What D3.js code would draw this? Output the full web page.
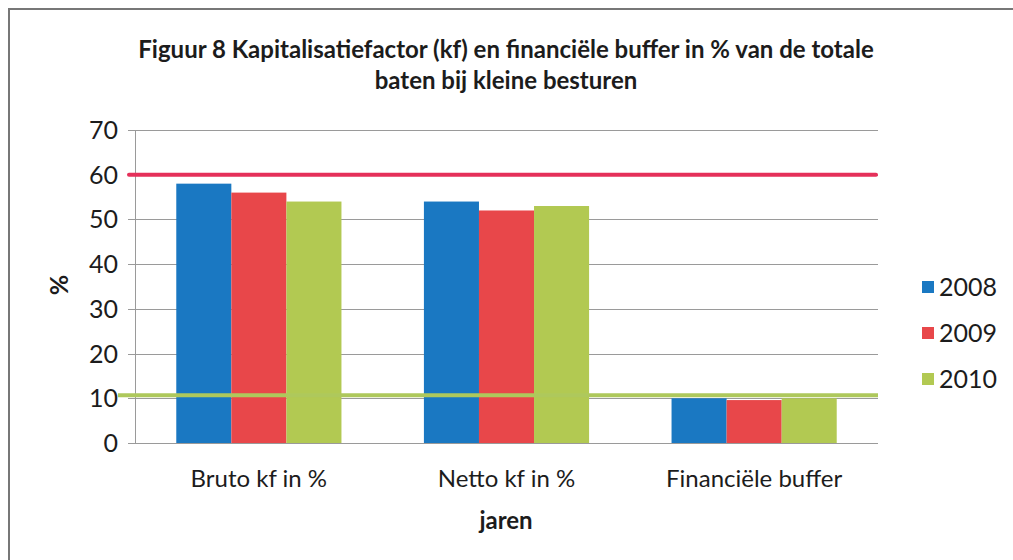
<!doctype html>
<html>
<head>
    <meta charset="utf-8">
    <style>
        body { margin: 0; background: #fff; }
        svg text { font-family: Lato, "Open Sans", sans-serif; fill: #1c1c1c; }
        .grid line { stroke: #9a9a9a; stroke-width: 1; shape-rendering: crispEdges; }
    </style>
</head>
<body>
    <svg id="chart"></svg>
    <script src="https://cdn.jsdelivr.net/npm/d3@7"></script>
    <script>
        var categories = ['Bruto kf in %', 'Netto kf in %', 'Financiële buffer'];
        var years = ['2008', '2009', '2010'];
        var values2008 = [58, 54, 10];
        var values2009 = [56, 52, 9.6];
        var values2010 = [54, 53, 10];
        var yTicks = [0, 10, 20, 30, 40, 50, 60, 70];
        var normMax = 60;   // red line
        var normMin = 10.7; // green line
        var colors = ['#1a78c2', '#e8474a', '#b2c952'];

        var series = [values2008, values2009, values2010];
        var width = 1013, height = 560;
        var m = { left: 135, right: 878, top: 130, bottom: 443 };

        var svg = d3.select('#chart').attr('width', width).attr('height', height);

        // frame
        svg.append('line').attr('x1', 8).attr('x2', width).attr('y1', 9).attr('y2', 9)
            .attr('stroke', '#777').attr('stroke-width', 2);
        svg.append('line').attr('x1', 9).attr('x2', 9).attr('y1', 9).attr('y2', height)
            .attr('stroke', '#777').attr('stroke-width', 2);

        var x0 = d3.scaleBand().domain(categories).range([m.left, m.right]).paddingInner(0.333).paddingOuter(0.1667);
        var x1 = d3.scaleBand().domain(years).range([0, x0.bandwidth()]);
        var y = d3.scaleLinear().domain([0, 70]).range([m.bottom, m.top]);

        // gridlines and ticks
        var grid = svg.append('g').attr('class', 'grid');
        grid.selectAll('line').data(yTicks).enter().append('line')
            .attr('x1', m.left - 7).attr('x2', m.right)
            .attr('y1', function(d) { return Math.round(y(d)) + 0.5; })
            .attr('y2', function(d) { return Math.round(y(d)) + 0.5; });
        grid.append('line').attr('x1', m.left + 0.5).attr('x2', m.left + 0.5)
            .attr('y1', m.top).attr('y2', m.bottom);

        svg.selectAll('text.ytick').data(yTicks).enter().append('text')
            .attr('class', 'ytick')
            .attr('x', 118).attr('y', function(d) { return y(d) + 9; })
            .attr('text-anchor', 'end').style('font-size', '25px')
            .text(function(d) { return d; });

        // bars
        var groups = svg.selectAll('g.cat').data(categories).enter().append('g')
            .attr('class', 'cat')
            .attr('transform', function(d) { return 'translate(' + x0(d) + ',0)'; });
        groups.selectAll('rect').data(function(d, i) {
            return years.map(function(yr, j) { return { year: yr, value: series[j][i], c: colors[j] }; });
        }).enter().append('rect')
            .attr('x', function(d) { return x1(d.year); })
            .attr('width', x1.bandwidth())
            .attr('y', function(d) { return y(d.value); })
            .attr('height', function(d) { return y(0) - y(d.value); })
            .attr('fill', function(d) { return d.c; });

        // reference lines
        svg.append('line').attr('x1', m.left - 6).attr('x2', m.right - 2)
            .attr('y1', y(normMax)).attr('y2', y(normMax))
            .attr('stroke', '#e5305a').attr('stroke-width', 4).attr('stroke-linecap', 'round');
        svg.append('line').attr('x1', m.left - 17).attr('x2', m.right)
            .attr('y1', y(normMin)).attr('y2', y(normMin))
            .attr('stroke', '#aec85c').attr('stroke-width', 4);

        // category labels
        svg.selectAll('text.cat').data(categories).enter().append('text')
            .attr('class', 'cat')
            .attr('x', function(d) { return x0(d) + x0.bandwidth() / 2; })
            .attr('y', 487).attr('text-anchor', 'middle').style('font-size', '24px')
            .text(function(d) { return d; });

        // axis titles
        svg.append('text').attr('x', 506).attr('y', 529).attr('text-anchor', 'middle')
            .style('font-size', '24px').style('font-weight', 'bold').text('jaren');
        svg.append('text').attr('transform', 'translate(68,285) rotate(-90)')
            .attr('text-anchor', 'middle').style('font-size', '25px').style('font-weight', 'bold').text('%');

        // title
        svg.append('text').attr('x', 506).attr('y', 58).attr('text-anchor', 'middle')
            .style('font-size', '24px').style('font-weight', 'bold')
            .text('Figuur 8 Kapitalisatiefactor  (kf) en financiële buffer in % van de totale');
        svg.append('text').attr('x', 506).attr('y', 89).attr('text-anchor', 'middle')
            .style('font-size', '24px').style('font-weight', 'bold')
            .text('baten bij kleine besturen');

        // legend
        var legend = svg.selectAll('g.legend').data(years).enter().append('g')
            .attr('class', 'legend')
            .attr('transform', function(d, i) { return 'translate(922,' + (287 + i * 46) + ')'; });
        legend.append('rect').attr('x', 0).attr('y', -6).attr('width', 12).attr('height', 12)
            .attr('fill', function(d, i) { return colors[i]; });
        legend.append('text').attr('x', 17).attr('y', 9).style('font-size', '25px')
            .text(function(d) { return d; });
    </script>
</body>
</html>
